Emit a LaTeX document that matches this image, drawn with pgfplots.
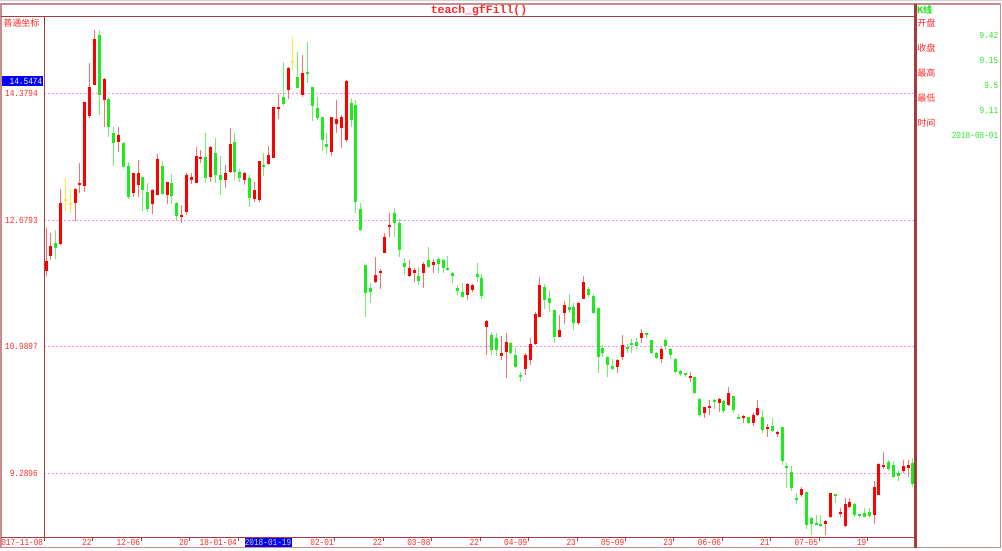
\documentclass[border=0pt]{standalone}
\usepackage{fontspec}
\usepackage{pgfplots}
\usepackage{pgfplotstable}
\pgfplotsset{compat=1.18}
\setmainfont{Liberation Mono}
\newfontfamily\monoc[FakeStretch=0.83]{Liberation Mono}
\newfontfamily\titlef{Liberation Mono}
\newfontfamily\cjk{Noto Sans CJK SC}
\newcommand\lab{\monoc\fontsize{7}{8}\selectfont}
\newcommand\cj{\cjk\fontsize{6.8}{8}\selectfont}
\definecolor{upB}{RGB}{255,0,0}
\definecolor{upW}{RGB}{255,110,110}
\definecolor{dnB}{RGB}{30,235,30}
\definecolor{dnW}{RGB}{110,240,110}
\definecolor{dj}{RGB}{255,235,60}
\definecolor{frm}{RGB}{165,60,60}
\definecolor{frmo}{RGB}{200,140,140}
\definecolor{txr}{RGB}{255,40,40}
\definecolor{grd}{RGB}{255,140,255}
\definecolor{txg}{RGB}{40,230,40}
\definecolor{cury}{RGB}{255,255,190}
\definecolor{datey}{RGB}{225,225,110}

% up (red) candles: x open high low close
\pgfplotstableread{
x o h l c
0 11.996 12.572 11.930 12.130
1 12.197 12.505 12.144 12.331
3 12.358 13.094 12.345 12.907
6 12.907 13.108 12.666 13.094
7 13.161 13.442 13.041 13.174
8 13.134 14.259 13.054 14.259
9 14.071 14.781 14.044 14.460
10 14.487 15.222 14.487 15.102
12 14.285 14.580 13.924 14.567
15 13.723 13.924 13.590 13.817
18 13.041 13.308 12.987 13.308
19 13.148 13.482 12.987 13.308
22 12.893 13.094 12.760 13.081
23 13.014 13.563 13.014 13.496
25 13.014 13.188 12.893 13.188
28 12.733 12.880 12.639 12.746
29 12.786 13.308 12.746 13.281
30 13.215 13.308 13.161 13.255
31 13.174 13.656 13.174 13.536
32 13.496 13.616 13.442 13.523
34 13.255 13.670 13.188 13.656
37 13.215 13.415 13.108 13.308
38 13.322 13.910 13.308 13.696
41 13.215 13.322 13.148 13.308
43 12.960 13.188 12.920 13.081
44 12.947 13.469 12.920 13.469
46 13.429 13.670 13.415 13.549
47 13.509 14.192 13.509 14.192
48 14.178 14.366 14.031 14.192
50 14.419 14.727 14.299 14.714
53 14.352 14.888 14.326 14.647
59 13.590 14.058 13.536 14.058
60 13.964 14.285 13.843 14.031
61 13.910 14.085 13.643 14.058
62 13.750 14.553 13.723 14.540
68 11.849 12.184 11.836 11.943
69 11.970 12.023 11.756 11.996
70 12.237 12.505 12.237 12.452
71 12.585 12.773 12.452 12.612
75 11.930 12.144 11.916 12.037
76 11.970 12.037 11.849 12.010
78 11.970 12.117 11.769 12.090
80 12.077 12.157 11.970 12.117
87 11.675 11.836 11.608 11.822
88 11.742 11.822 11.715 11.809
91 11.247 11.341 10.872 11.327
94 10.859 11.126 10.805 10.899
95 10.912 11.167 10.564 11.046
99 10.685 10.899 10.604 10.872
100 10.805 11.100 10.738 11.019
101 11.019 11.448 11.006 11.421
102 11.381 11.916 11.381 11.809
106 11.113 11.407 11.113 11.207
107 11.434 11.595 11.287 11.541
110 11.300 11.582 11.274 11.568
111 11.622 11.930 11.622 11.849
118 10.711 10.819 10.631 10.805
119 10.845 11.140 10.805 11.006
123 11.100 11.220 11.033 11.167
127 10.819 10.966 10.765 10.952
133 10.577 10.644 10.511 10.591
136 10.095 10.176 10.029 10.176
137 10.162 10.270 10.069 10.189
139 10.230 10.297 10.109 10.283
141 10.203 10.444 10.189 10.364
144 10.042 10.069 9.962 10.055
146 9.962 10.095 9.922 10.069
147 10.069 10.270 10.055 10.162
149 9.881 9.948 9.774 9.908
151 9.815 9.855 9.774 9.841
156 8.998 9.105 8.971 9.078
161 8.610 8.663 8.463 8.650
162 8.703 9.025 8.690 9.025
164 8.757 8.824 8.703 8.770
165 8.583 8.958 8.570 8.877
166 8.837 8.958 8.824 8.904
171 8.730 9.185 8.610 9.105
172 8.998 9.426 8.998 9.413
173 9.386 9.574 9.346 9.400
177 9.319 9.467 9.292 9.386
178 9.359 9.467 9.239 9.400
}\up

% down (green) candles
\pgfplotstableread{
x o h l c
2 12.371 12.545 12.157 12.304
11 15.156 15.222 14.085 14.352
13 14.299 14.326 13.790 13.924
14 13.843 13.924 13.402 13.710
16 13.710 13.723 13.389 13.389
17 13.402 13.456 12.960 12.987
20 13.255 13.255 12.800 13.081
21 13.054 13.174 12.786 12.826
24 13.402 13.469 13.014 13.027
26 13.174 13.295 12.893 13.000
27 12.907 12.920 12.679 12.733
33 13.523 13.843 13.174 13.241
35 13.576 13.777 13.174 13.281
36 13.281 13.536 13.014 13.215
39 13.723 13.843 13.215 13.322
40 13.322 13.362 13.188 13.241
42 13.241 13.281 12.853 12.974
45 13.415 13.576 13.268 13.402
49 14.326 14.794 14.205 14.232
52 14.593 14.928 14.446 14.446
54 14.660 15.062 14.513 14.647
55 14.460 14.460 14.004 14.205
56 14.178 14.326 14.018 14.044
57 14.058 14.058 13.603 13.750
58 13.696 13.843 13.563 13.656
63 14.245 14.312 13.924 14.018
64 14.219 14.285 12.773 12.920
65 12.826 12.907 12.532 12.545
66 12.077 12.077 11.381 11.702
67 11.769 11.836 11.568 11.715
72 12.773 12.840 12.452 12.639
73 12.639 12.693 12.184 12.278
74 12.103 12.170 11.943 12.050
77 11.930 12.050 11.809 11.863
79 12.144 12.318 12.037 12.050
81 12.157 12.184 11.970 12.090
82 12.144 12.157 11.970 12.037
83 12.037 12.197 11.996 12.023
84 11.970 11.983 11.836 11.930
85 11.769 11.809 11.675 11.729
86 11.715 11.836 11.648 11.648
89 11.956 12.103 11.849 11.916
90 11.903 11.956 11.622 11.662
92 11.140 11.180 10.872 10.939
93 11.100 11.167 10.859 10.939
96 11.033 11.046 10.872 10.899
97 10.872 10.979 10.698 10.711
98 10.604 10.644 10.511 10.577
103 11.782 11.822 11.488 11.608
104 11.635 11.742 11.448 11.568
105 11.474 11.474 11.033 11.113
108 11.515 11.689 11.434 11.474
109 11.515 11.568 11.207 11.300
112 11.756 11.782 11.648 11.675
113 11.662 11.689 11.421 11.434
114 11.501 11.501 10.631 10.845
115 10.966 11.006 10.845 10.899
116 10.845 10.859 10.577 10.738
117 10.725 10.819 10.671 10.685
120 10.979 11.019 10.899 10.966
121 11.033 11.086 10.899 11.019
122 11.046 11.100 10.952 10.993
124 11.167 11.180 11.100 11.140
125 11.073 11.073 10.885 10.899
126 10.899 10.912 10.819 10.832
128 11.073 11.100 10.939 10.993
129 10.952 10.966 10.819 10.872
130 10.819 10.832 10.631 10.644
131 10.658 10.671 10.591 10.618
132 10.631 10.631 10.577 10.618
134 10.577 10.577 10.350 10.364
135 10.283 10.297 10.042 10.069
138 10.270 10.283 10.149 10.243
140 10.256 10.270 10.095 10.122
142 10.323 10.323 10.095 10.136
143 10.042 10.082 10.015 10.029
145 10.042 10.042 9.948 9.962
148 10.042 10.136 9.828 9.868
150 9.922 10.029 9.841 9.855
152 9.908 9.908 9.400 9.453
153 9.386 9.426 9.092 9.373
154 9.306 9.386 9.052 9.092
155 8.958 9.025 8.877 8.944
157 9.038 9.038 8.543 8.596
158 8.690 8.703 8.463 8.610
159 8.623 8.730 8.596 8.610
160 8.610 8.730 8.570 8.596
163 9.011 9.011 8.891 8.998
167 8.877 8.891 8.703 8.730
168 8.743 8.743 8.690 8.717
169 8.757 8.824 8.703 8.703
170 8.770 8.824 8.703 8.717
174 9.440 9.467 9.319 9.346
175 9.400 9.453 9.226 9.239
176 9.292 9.333 9.185 9.252
179 9.420 9.500 9.110 9.150
}\down

% doji (yellow) candles
\pgfplotstableread{
x o h l c
4 12.940 13.241 12.800 12.954
5 12.886 13.108 12.773 12.900
51 14.787 15.129 14.687 14.801
}\doji

\begin{document}
\begin{tikzpicture}
\begin{axis}[
  at={(33pt,-402.75pt)}, anchor=south west,
  scale only axis, width=653.6pt, height=390.75pt,
  xmin=-0.413, xmax=179.54, ymin=8.436, ymax=15.410,
  axis line style={draw=frm, line width=0.75pt},
  xtick={-0.35,9.65,19.65,29.65,39.65,49.65,59.65,69.65,79.65,89.65,99.65,109.65,119.65,129.65,139.65,149.65,159.65,169.65},
  xticklabels={017-11-08,22,12-06,20,18-01-04,{},02-01,22,03-08,22,04-09,23,05-09,23,06-06,21,07-05,19},
  ytick={9.2896,10.9897,12.6793,14.3794},
  yticklabels={9.2896,10.9897,12.6793,14.3794},
  ymajorgrids,
  grid style={grd, dash pattern=on 1.5pt off 1.5pt, line width=0.6pt},
  xtick pos=lower,
  ytick style={draw=none},
  xtick style={draw=frm, line width=0.6pt},
  tick align=outside, major tick length=3pt,
  xticklabel style={font=\lab, text=txr, anchor=east, inner sep=0pt, yshift=-1.4pt, xshift=-0.7pt},
  yticklabel style={font=\lab, text=txr, anchor=east, inner sep=0pt, xshift=-1.5pt},
  every axis plot/.append style={draw=none, mark=none, forget plot},
]
% wicks
\addplot[draw=none, mark=none, error bars/.cd, y dir=both, y explicit, error mark=none,
  error bar style={draw=upW, line width=0.75pt}]
  table[x=x, y expr={(\thisrow{h}+\thisrow{l})/2}, y error expr={(\thisrow{h}-\thisrow{l})/2}] {\up};
\addplot[draw=none, mark=none, error bars/.cd, y dir=both, y explicit, error mark=none,
  error bar style={draw=dnW, line width=0.75pt}]
  table[x=x, y expr={(\thisrow{h}+\thisrow{l})/2}, y error expr={(\thisrow{h}-\thisrow{l})/2}] {\down};
\addplot[draw=none, mark=none, error bars/.cd, y dir=both, y explicit, error mark=none,
  error bar style={draw=dj, line width=0.75pt}]
  table[x=x, y expr={(\thisrow{h}+\thisrow{l})/2}, y error expr={(\thisrow{h}-\thisrow{l})/2}] {\doji};
% bodies
\addplot[draw=none, mark=none, error bars/.cd, y dir=both, y explicit, error mark=none,
  error bar style={draw=upB, line width=2.25pt}]
  table[x=x, y expr={(\thisrow{o}+\thisrow{c})/2}, y error expr={max(abs(\thisrow{c}-\thisrow{o})/2,0.011)}] {\up};
\addplot[draw=none, mark=none, error bars/.cd, y dir=both, y explicit, error mark=none,
  error bar style={draw=dnB, line width=2.25pt}]
  table[x=x, y expr={(\thisrow{o}+\thisrow{c})/2}, y error expr={max(abs(\thisrow{c}-\thisrow{o})/2,0.011)}] {\down};
\addplot[draw=none, mark=none, error bars/.cd, y dir=both, y explicit, error mark=none,
  error bar style={draw=dj, line width=2.25pt}]
  table[x=x, y expr={(\thisrow{o}+\thisrow{c})/2}, y error expr={max(abs(\thisrow{c}-\thisrow{o})/2,0.011)}] {\doji};
\end{axis}
\begin{scope}[x=0.75pt, y=-0.75pt]
\draw[gray!35, line width=1pt] (0,0.5) -- (1002,0.5);
\draw[frmo, line width=0.8pt] (1,4) rectangle (1000.5,547.5);
\draw[frm, line width=0.75pt] (1,16) -- (915.5,16);
\draw[frm, line width=0.75pt] (1,537) -- (44,537);
\draw[frm, line width=1.6pt] (915.5,4) -- (915.5,547.5);
\node[text=txr, inner sep=0pt] at (479,10) {\titlef\bfseries\fontsize{8.6}{10}\selectfont teach\_gfFill()};
\node[text=txr, anchor=west, inner sep=0pt] at (3,23) {\cj 普通坐标};
\fill[blue] (1.5,75.5) rectangle (43,86);
\node[text=cury, anchor=east, inner sep=0pt] at (42.5,81) {\lab 14.5474};
\fill[blue] (244.5,538) rectangle (291.5,547);
\node[text=datey, inner sep=0pt] at (268,542.5) {\lab 2018-01-19};
\node[text=txg, anchor=west, inner sep=0pt] at (916.5,10) {\cj\bfseries K线};
\node[text=txr, anchor=west, inner sep=0pt] at (917,23) {\cj 开盘};
\node[text=txr, anchor=west, inner sep=0pt] at (917,48) {\cj 收盘};
\node[text=txr, anchor=west, inner sep=0pt] at (917,73) {\cj 最高};
\node[text=txr, anchor=west, inner sep=0pt] at (917,98) {\cj 最低};
\node[text=txr, anchor=west, inner sep=0pt] at (917,123) {\cj 时间};
\node[text=txg, anchor=east, inner sep=0pt] at (998.5,35) {\lab 9.42};
\node[text=txg, anchor=east, inner sep=0pt] at (998.5,60) {\lab 9.15};
\node[text=txg, anchor=east, inner sep=0pt] at (998.5,85) {\lab 9.5};
\node[text=txg, anchor=east, inner sep=0pt] at (998.5,110) {\lab 9.11};
\node[text=txg, anchor=east, inner sep=0pt] at (998.5,135.5) {\lab 2018-08-01};
\pgfresetboundingbox
\path (0,0) rectangle (1002,550);
\end{scope}
\end{tikzpicture}
\end{document}
